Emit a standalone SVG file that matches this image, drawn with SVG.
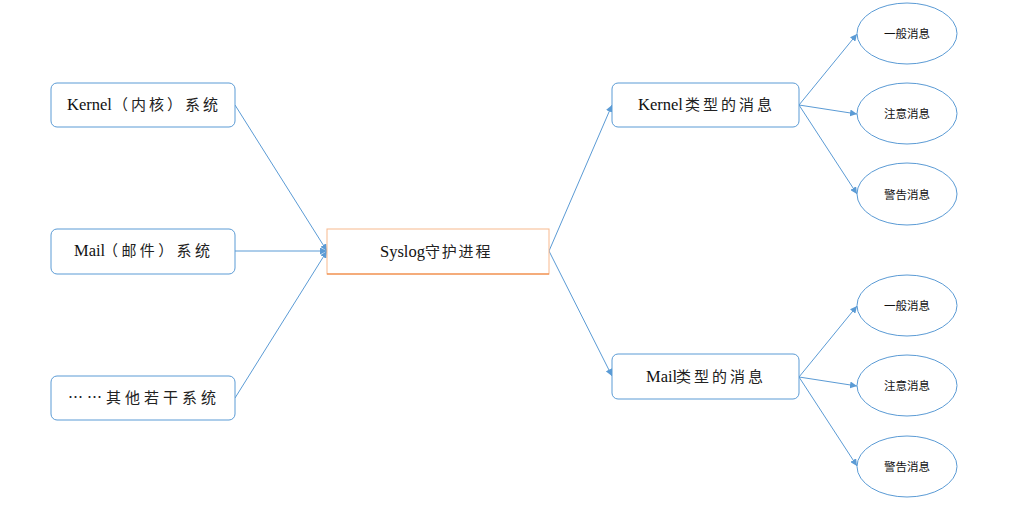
<svg xmlns="http://www.w3.org/2000/svg" width="1024" height="505" viewBox="0 0 1024 505">
<defs>
<marker id="arr" viewBox="0 0 10 10" refX="10" refY="5" markerWidth="7" markerHeight="7" markerUnits="userSpaceOnUse" orient="auto">
<path d="M0,0 L10,5 L0,10 z" fill="#5B9BD5"/>
</marker>
<style>
.box{fill:#fff;stroke:#5B9BD5;stroke-width:1}
.ell{fill:#fff;stroke:#5B9BD5;stroke-width:1}
.lbl{font-family:"Liberation Serif","Noto Sans CJK SC",serif;font-size:16.5px;fill:#111}
.cjk{font-family:"Noto Sans CJK SC",sans-serif;font-size:15px;fill:#222}
.sm{font-family:"Noto Sans CJK SC","Liberation Sans",sans-serif;font-size:11.5px;fill:#111;text-anchor:middle}
.con{fill:none;stroke:#5B9BD5;stroke-width:1;marker-end:url(#arr)}
</style>
</defs>
<rect width="1024" height="505" fill="#fff"/>
<g id="connectors">
<line class="con" x1="235" y1="105" x2="327" y2="251"/>
<line class="con" x1="235" y1="251" x2="327" y2="251"/>
<line class="con" x1="235" y1="398" x2="327" y2="251"/>
<line class="con" x1="549" y1="251" x2="612" y2="105"/>
<line class="con" x1="549" y1="251" x2="612" y2="376"/>
<line class="con" x1="799" y1="105" x2="857" y2="34"/>
<line class="con" x1="799" y1="105" x2="857" y2="114"/>
<line class="con" x1="799" y1="105" x2="857" y2="194"/>
<line class="con" x1="799" y1="377" x2="857" y2="306"/>
<line class="con" x1="799" y1="377" x2="857" y2="386"/>
<line class="con" x1="799" y1="377" x2="857" y2="466"/>
</g>
<g id="kernel-sys">
<rect class="box" x="51" y="83" width="184" height="44" rx="6"/>
<text class="lbl" x="67" y="110">Kernel<tspan class="cjk" x="113" letter-spacing="3">（内核）系统</tspan></text>
</g>
<g id="mail-sys">
<rect class="box" x="51" y="229" width="184" height="45" rx="6"/>
<text class="lbl" x="74" y="256">Mail<tspan class="cjk" x="103" letter-spacing="3.4">（邮件）系统</tspan></text>
</g>
<g id="other-sys">
<rect class="box" x="51" y="376" width="184" height="44" rx="6"/>
<text class="cjk" x="68" y="403" letter-spacing="4">……其他若干系统</text>
</g>
<g id="syslog">
<rect x="327" y="229" width="222" height="45" fill="#fff" stroke="#F8B98E" stroke-width="1"/>
<line x1="327" y1="274" x2="549" y2="274" stroke="#ED7D31" stroke-width="1.2"/>
<text class="lbl" x="380" y="257">Syslog<tspan class="cjk" x="425" font-size="16" letter-spacing="1.8">守护进程</tspan></text>
</g>
<g id="kernel-msg">
<rect class="box" x="612" y="83" width="187" height="44" rx="6"/>
<text class="lbl" x="638" y="110" font-size="17">Kernel<tspan class="cjk" x="685" letter-spacing="3">类型的消息</tspan></text>
</g>
<g id="mail-msg">
<rect class="box" x="612" y="354" width="187" height="45" rx="6"/>
<text class="lbl" x="646" y="382" font-size="17">Mail<tspan class="cjk" x="676" letter-spacing="3">类型的消息</tspan></text>
</g>
<g id="k-normal">
<ellipse class="ell" cx="907" cy="33.5" rx="50" ry="30.5"/>
<text class="sm" x="907" y="38">一般消息</text>
</g>
<g id="k-notice">
<ellipse class="ell" cx="907" cy="113.5" rx="50" ry="30.5"/>
<text class="sm" x="907" y="118">注意消息</text>
</g>
<g id="k-warn">
<ellipse class="ell" cx="907" cy="194" rx="50" ry="31"/>
<text class="sm" x="907" y="198.5">警告消息</text>
</g>
<g id="m-normal">
<ellipse class="ell" cx="907" cy="305.5" rx="50" ry="30.5"/>
<text class="sm" x="907" y="310">一般消息</text>
</g>
<g id="m-notice">
<ellipse class="ell" cx="907" cy="385.5" rx="50" ry="30.5"/>
<text class="sm" x="907" y="390">注意消息</text>
</g>
<g id="m-warn">
<ellipse class="ell" cx="907" cy="466.5" rx="50" ry="30.5"/>
<text class="sm" x="907" y="471">警告消息</text>
</g>
</svg>
